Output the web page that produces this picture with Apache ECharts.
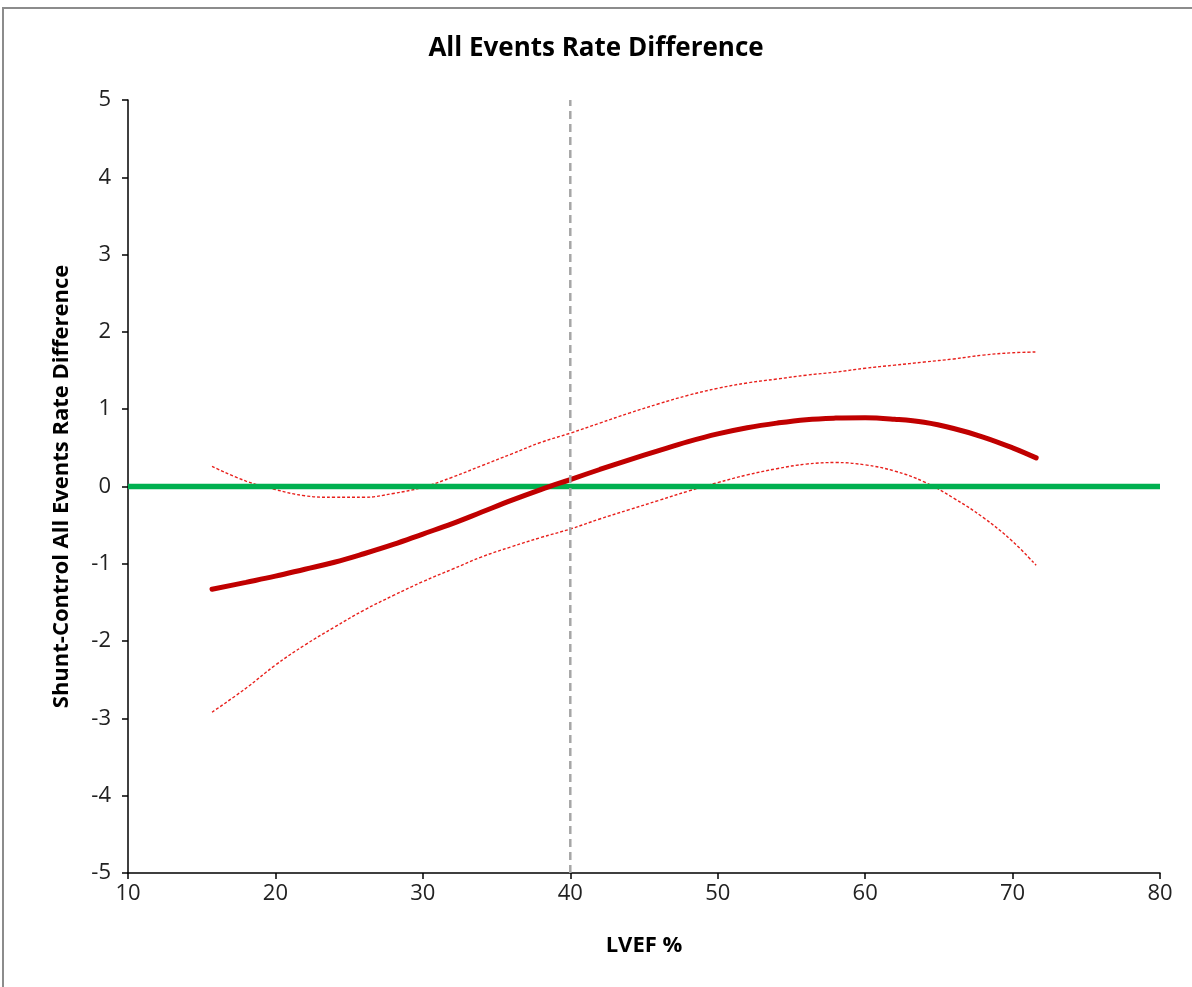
<!DOCTYPE html>
<html>
<head>
<meta charset="utf-8">
<script src="https://cdn.jsdelivr.net/npm/echarts@6/dist/echarts.min.js"></script>
<style>
html,body{margin:0;padding:0;background:#fff;}
#chart{width:1192px;height:987px;}
</style>
</head>
<body>
<div id="chart"></div>
<script>
// LVEF % sample positions
const lvef = [15.7, 18, 20, 22, 24, 26, 28, 30, 32, 34, 36, 38, 40, 42, 44, 46, 48, 50, 52, 54, 56, 58, 60, 62, 64, 66, 68, 70, 71.6];
// Shunt-Control rate difference estimate
const estimate = [-1.33, -1.24, -1.16, -1.07, -0.98, -0.87, -0.75, -0.615, -0.48, -0.33, -0.18, -0.04, 0.09, 0.22, 0.345, 0.465, 0.58, 0.68, 0.76, 0.82, 0.865, 0.885, 0.89, 0.87, 0.83, 0.75, 0.64, 0.50, 0.37];
// Upper confidence bound
const upper = [0.26, 0.07, -0.04, -0.12, -0.14, -0.14, -0.09, -0.01, 0.12, 0.27, 0.42, 0.57, 0.69, 0.82, 0.95, 1.07, 1.18, 1.27, 1.34, 1.39, 1.44, 1.48, 1.53, 1.57, 1.61, 1.65, 1.70, 1.73, 1.74];
// Lower confidence bound
const lower = [-2.92, -2.61, -2.31, -2.05, -1.82, -1.60, -1.41, -1.23, -1.07, -0.91, -0.78, -0.66, -0.55, -0.42, -0.30, -0.18, -0.06, 0.05, 0.15, 0.23, 0.29, 0.31, 0.28, 0.20, 0.06, -0.15, -0.40, -0.71, -1.02];
// Zero reference line
const zeroLineX = [10, 80];
const zeroLineY = [0, 0];
// Vertical reference at LVEF 40
const refLineX = [40, 40];
const refLineY = [-5, 5];
// Axis ticks
const xTicks = {min: 10, max: 80, interval: 10};
const yTicks = {min: -5, max: 5, interval: 1};

const zip = (a, b) => a.map((v, i) => [v, b[i]]);
const font = "'Open Sans', 'Liberation Sans', sans-serif";

const chart = echarts.init(document.getElementById('chart'));
chart.setOption({
  animation: false,
  backgroundColor: '#fff',
  title: {
    text: 'All Events Rate Difference',
    left: 'center',
    top: 31,
    textStyle: {fontFamily: font, fontSize: 26, fontWeight: 'bold', color: '#000'}
  },
  graphic: [{
    type: 'rect',
    shape: {x: 3, y: 8, width: 1250, height: 1050},
    style: {fill: 'none', stroke: '#8c8c8c', lineWidth: 2},
    silent: true
  }],
  grid: {left: 128, right: 32, top: 100, bottom: 114, containLabel: false},
  xAxis: {
    type: 'value',
    min: xTicks.min, max: xTicks.max, interval: xTicks.interval,
    name: 'LVEF %',
    nameLocation: 'middle',
    nameGap: 62,
    nameTextStyle: {fontFamily: font, fontSize: 22, fontWeight: 'bold', color: '#000'},
    axisLine: {onZero: false, lineStyle: {color: '#000', width: 1.5}},
    axisTick: {show: true, length: 6, lineStyle: {color: '#000', width: 1.5}},
    axisLabel: {fontFamily: font, fontSize: 22, color: '#222', margin: 10},
    splitLine: {show: false}
  },
  yAxis: {
    type: 'value',
    min: yTicks.min, max: yTicks.max, interval: yTicks.interval,
    name: 'Shunt-Control All Events Rate Difference',
    nameLocation: 'middle',
    nameGap: 55,
    nameTextStyle: {fontFamily: font, fontSize: 22, fontWeight: 'bold', color: '#000'},
    axisLine: {show: true, onZero: false, lineStyle: {color: '#000', width: 1.5}},
    axisTick: {show: true, length: 6, lineStyle: {color: '#000', width: 1.5}},
    axisLabel: {fontFamily: font, fontSize: 22, color: '#222', margin: 17},
    splitLine: {show: false}
  },
  series: [
    {
      name: 'Upper', type: 'line', data: zip(lvef, upper), smooth: 0.4, symbol: 'none',
      lineStyle: {color: '#e8201c', width: 1.4, type: [3, 2]}
    },
    {
      name: 'Lower', type: 'line', data: zip(lvef, lower), smooth: 0.4, symbol: 'none',
      lineStyle: {color: '#e8201c', width: 1.4, type: [3, 2]}
    },
    {
      name: 'Zero', type: 'line', data: zip(zeroLineX, zeroLineY), symbol: 'none',
      lineStyle: {color: '#00b050', width: 5.5}
    },
    {
      name: 'Estimate', type: 'line', data: zip(lvef, estimate), smooth: 0.4, symbol: 'none',
      lineStyle: {color: '#c00000', width: 5, cap: 'round'}
    },
    {
      name: 'Ref', type: 'line', data: zip(refLineX, refLineY), symbol: 'none',
      lineStyle: {color: '#a6a6a6', width: 2.5, type: [8, 5]}
    }
  ]
});
</script>
</body>
</html>
